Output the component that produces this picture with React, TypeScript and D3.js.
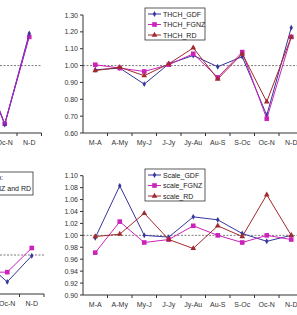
import React, { useRef, useEffect } from "react";
import * as d3 from "d3";

// months pairs on the x axis
const periods = ["M-A", "A-My", "My-J", "J-Jy", "Jy-Au", "Au-S", "S-Oc", "Oc-N", "N-D"];

// top chart values
const thchGdf = [0.975, 0.985, 0.89, 1.01, 1.06, 0.993, 1.053, 0.705, 1.225];
const thchFgnz = [1.005, 0.985, 0.965, 1.005, 1.07, 0.93, 1.08, 0.685, 1.17];
const thchRd = [0.97, 0.99, 0.94, 1.01, 1.105, 0.92, 1.07, 0.785, 1.17];
const topTicks = [0.6, 0.7, 0.8, 0.9, 1.0, 1.1, 1.2, 1.3];

// bottom chart values
const scaleGdf = [0.996, 1.083, 1.0, 0.997, 1.031, 1.026, 1.003, 0.99, 1.0];
const scaleFgnz = [0.971, 1.023, 0.988, 0.993, 1.016, 1.0, 0.988, 1.0, 0.993];
const scaleRd = [0.998, 1.002, 1.037, 0.993, 0.978, 1.016, 0.998, 1.068, 1.0];
const bottomTicks = [0.9, 0.92, 0.94, 0.96, 0.98, 1.0, 1.02, 1.04, 1.06, 1.08, 1.1];

// neighbour panels that are cut off on the left (only last months show)
const leftTopA = [1.03, 0.65, 1.19];
const leftTopB = [1.03, 0.655, 1.17];
const leftBottomA = [0.987, 0.931, 0.998];
const leftBottomB = [0.956, 0.956, 1.018];
const leftPeriods = ["S-Oc", "Oc-N", "N-D"];

const GDF = "#35359a";
const FGNZ = "#cc22bb";
const RD = "#a02a2e";
const FONT = "Liberation Sans, Arial, sans-serif";

function App() {
  const chartRef = useRef(null);

  useEffect(() => {
    const svg = d3.select(chartRef.current);
    svg.selectAll("*").remove();

    // draws a little marker for each series
    const marker = (g, kind, x, y, color) => {
      if (kind === "diamond") {
        g.append("path").attr("d", d3.symbol(d3.symbolDiamond, 10)()).attr("transform", `translate(${x},${y})`).attr("fill", color);
      } else if (kind === "square") {
        g.append("rect").attr("x", x - 2.3).attr("y", y - 2.3).attr("width", 4.6).attr("height", 4.6).attr("fill", color);
      } else {
        g.append("path").attr("d", d3.symbol(d3.symbolTriangle, 14)()).attr("transform", `translate(${x},${y})`).attr("fill", color);
      }
    };

    const drawSeries = (g, x, y, cats, vals, color, kind) => {
      const line = d3.line().x((d, i) => x(cats[i]) + x.bandwidth() / 2).y((d) => y(d));
      g.append("path").attr("d", line(vals)).attr("fill", "none").attr("stroke", color).attr("stroke-width", 1);
      vals.forEach((v, i) => marker(g, kind, x(cats[i]) + x.bandwidth() / 2, y(v), color));
    };

    const drawXAxis = (g, x, y0, x0, x1) => {
      g.append("line").attr("x1", x0).attr("x2", x1).attr("y1", y0).attr("y2", y0).attr("stroke", "#333").attr("stroke-width", 1);
      x.domain().forEach((c) => {
        const bx = x(c) + x.bandwidth();
        g.append("line").attr("x1", bx).attr("x2", bx).attr("y1", y0).attr("y2", y0 + 3).attr("stroke", "#333");
        g.append("text")
          .attr("x", x(c) + x.bandwidth() / 2)
          .attr("y", y0 + 12)
          .attr("text-anchor", "middle")
          .attr("font-size", 7)
          .attr("font-family", FONT)
          .attr("fill", "#333")
          .text(c);
      });
    };

    const drawYAxis = (g, y, ticks, x0, fmt) => {
      const [r0, r1] = y.range();
      g.append("line").attr("x1", x0).attr("x2", x0).attr("y1", r0).attr("y2", r1).attr("stroke", "#333");
      ticks.forEach((t) => {
        g.append("line").attr("x1", x0 - 3).attr("x2", x0).attr("y1", y(t)).attr("y2", y(t)).attr("stroke", "#333");
        g.append("text")
          .attr("x", x0 - 5)
          .attr("y", y(t) + 2.5)
          .attr("text-anchor", "end")
          .attr("font-size", 7)
          .attr("font-family", FONT)
          .attr("fill", "#333")
          .text(fmt(t));
      });
    };

    const drawLegend = (g, x0, y0, items) => {
      g.append("rect").attr("x", x0).attr("y", y0).attr("width", 60).attr("height", 32).attr("fill", "#fff").attr("stroke", "#333").attr("stroke-width", 0.8);
      items.forEach((it, i) => {
        const ly = y0 + 6 + i * 10.5;
        g.append("line").attr("x1", x0 + 3).attr("x2", x0 + 16).attr("y1", ly).attr("y2", ly).attr("stroke", it.color);
        marker(g, it.kind, x0 + 9.5, ly, it.color);
        g.append("text")
          .attr("x", x0 + 18)
          .attr("y", ly + 2.5)
          .attr("font-size", 7)
          .attr("font-family", FONT)
          .attr("fill", "#222")
          .text(it.label);
      });
    };

    const fmt2 = d3.format(".2f");
    const axisX = 83;

    // ---- top right panel
    const top = svg.append("g");
    const xTop = d3.scaleBand().domain(periods).range([axisX, axisX + 9 * 24.5]);
    const yTop = d3.scaleLinear().domain([0.6, 1.3]).range([133, 15]);
    top.append("line").attr("x1", axisX).attr("x2", 297).attr("y1", yTop(1)).attr("y2", yTop(1)).attr("stroke", "#444").attr("stroke-dasharray", "2,1.5").attr("stroke-width", 0.7);
    drawYAxis(top, yTop, topTicks, axisX, fmt2);
    drawXAxis(top, xTop, 133, axisX, 297);
    drawSeries(top, xTop, yTop, periods, thchGdf, GDF, "diamond");
    drawSeries(top, xTop, yTop, periods, thchFgnz, FGNZ, "square");
    drawSeries(top, xTop, yTop, periods, thchRd, RD, "triangle");
    drawLegend(top, 145, 8, [
      { label: "THCH_GDF", color: GDF, kind: "diamond" },
      { label: "THCH_FGNZ", color: FGNZ, kind: "square" },
      { label: "THCH_RD", color: RD, kind: "triangle" },
    ]);

    // ---- bottom right panel
    const bot = svg.append("g");
    const xBot = d3.scaleBand().domain(periods).range([axisX, axisX + 9 * 24.5]);
    const yBot = d3.scaleLinear().domain([0.9, 1.1]).range([295, 175.7]);
    bot.append("line").attr("x1", axisX).attr("x2", 297).attr("y1", yBot(1)).attr("y2", yBot(1)).attr("stroke", "#444").attr("stroke-dasharray", "2,1.5").attr("stroke-width", 0.7);
    drawYAxis(bot, yBot, bottomTicks, axisX, fmt2);
    drawXAxis(bot, xBot, 295, axisX, 297);
    drawSeries(bot, xBot, yBot, periods, scaleGdf, GDF, "diamond");
    drawSeries(bot, xBot, yBot, periods, scaleFgnz, FGNZ, "square");
    drawSeries(bot, xBot, yBot, periods, scaleRd, RD, "triangle");
    drawLegend(bot, 145, 169, [
      { label: "Scale_GDF", color: GDF, kind: "diamond" },
      { label: "scale_FGNZ", color: FGNZ, kind: "square" },
      { label: "scale_RD", color: RD, kind: "triangle" },
    ]);

    // ---- cut-off left panels
    const lt = svg.append("g");
    const xLt = d3.scaleBand().domain(leftPeriods).range([41.5 - 3 * 24.5, 41.5]);
    lt.append("line").attr("x1", 0).attr("x2", 41.5).attr("y1", yTop(1)).attr("y2", yTop(1)).attr("stroke", "#444").attr("stroke-dasharray", "2,1.5").attr("stroke-width", 0.7);
    drawXAxis(lt, xLt, 133, 0, 41.5);
    drawSeries(lt, xLt, yTop, leftPeriods, leftTopB, FGNZ, "square");
    drawSeries(lt, xLt, yTop, leftPeriods, leftTopA, GDF, "diamond");
    lt.append("path")
      .attr("d", d3.line().x((d, i) => xLt(leftPeriods[i]) + xLt.bandwidth() / 2).y((d) => yTop(d))(leftTopA.map((v, i) => (v + leftTopB[i]) / 2)))
      .attr("fill", "none").attr("stroke", "#9a2cb8").attr("stroke-width", 1.2);

    const lb = svg.append("g");
    const xLb = d3.scaleBand().domain(leftPeriods).range([44 - 3 * 24.5, 44]);
    const yLb = d3.scaleLinear().domain([0.9, 1.2]).range([294, 177]);
    lb.append("line").attr("x1", 0).attr("x2", 44).attr("y1", yLb(1)).attr("y2", yLb(1)).attr("stroke", "#444").attr("stroke-dasharray", "2,1.5").attr("stroke-width", 0.7);
    drawXAxis(lb, xLb, 294, 0, 44);
    drawSeries(lb, xLb, yLb, leftPeriods, leftBottomA, GDF, "diamond");
    drawSeries(lb, xLb, yLb, leftPeriods, leftBottomB, FGNZ, "square");
    lb.append("rect").attr("x", -40).attr("y", 172).attr("width", 73).attr("height", 23).attr("fill", "#fff").attr("stroke", "#333").attr("stroke-width", 0.8);
    lb.append("text").attr("x", 3).attr("y", 180).attr("text-anchor", "end").attr("font-size", 7).attr("font-family", FONT).attr("fill", "#222").text("Ratio:");
    lb.append("text").attr("x", 31).attr("y", 191).attr("text-anchor", "end").attr("font-size", 7).attr("font-family", FONT).attr("fill", "#222").text("GDF, FGNZ and RD");
  }, []);

  return (
    <svg ref={chartRef} width={297} height={315} style={{ position: "absolute", left: 0, top: 0, background: "#fff" }}></svg>
  );
}

export default App;
